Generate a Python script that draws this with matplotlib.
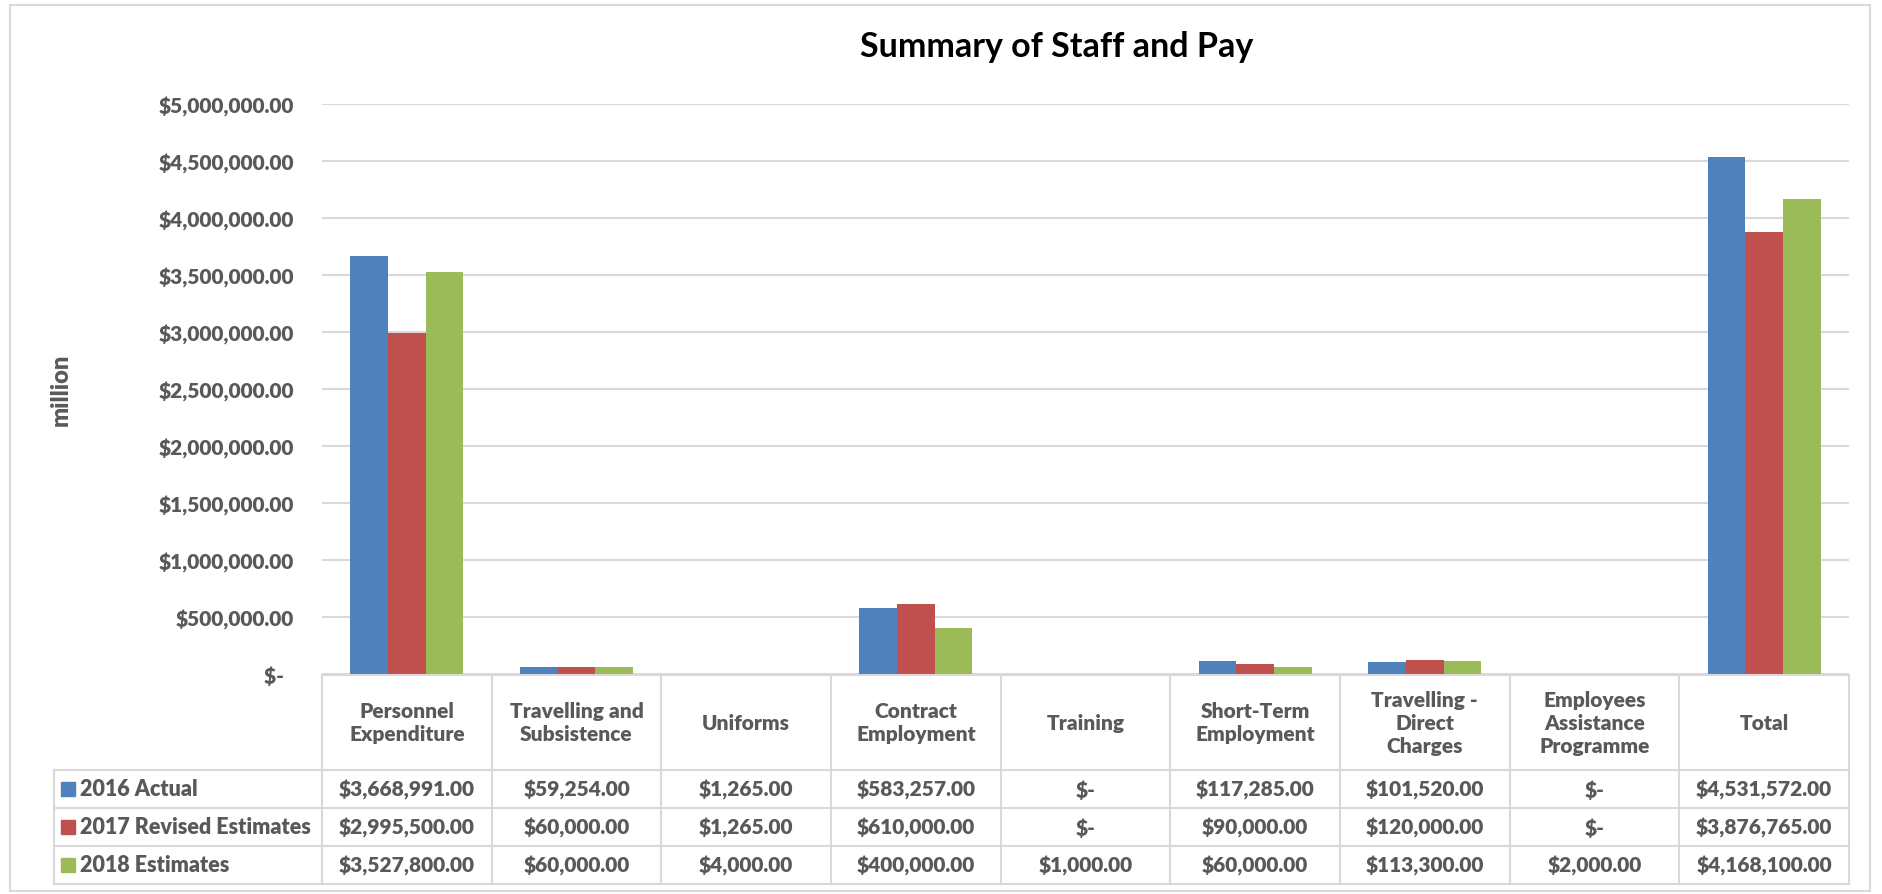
import matplotlib
matplotlib.use("Agg")
import matplotlib.pyplot as plt
from matplotlib.patches import Rectangle
from matplotlib.ticker import FuncFormatter
import numpy as np

plt.rcParams["font.family"] = ["Lato", "DejaVu Sans"]

# %% data
categories = [
    "Personnel\nExpenditure",
    "Travelling and\nSubsistence",
    "Uniforms",
    "Contract\nEmployment",
    "Training",
    "Short-Term\nEmployment",
    "Travelling -\nDirect\nCharges",
    "Employees\nAssistance\nProgramme",
    "Total",
]
series_names = ["2016 Actual", "2017 Revised Estimates", "2018 Estimates"]
actual_2016 = [3668991, 59254, 1265, 583257, 0, 117285, 101520, 0, 4531572]
revised_2017 = [2995500, 60000, 1265, 610000, 0, 90000, 120000, 0, 3876765]
estimates_2018 = [3527800, 60000, 4000, 400000, 1000, 60000, 113300, 2000, 4168100]
series_values = [actual_2016, revised_2017, estimates_2018]
colors = ["#4F81BD", "#C0504D", "#9BBB59"]

TEXT = "#595959"
GRID = "#D9D9D9"
WEIGHT = "heavy"


def money(v, pos=None):
    return "$-  " if v == 0 else f"${v:,.2f}"


# %% layout in pixels
W, H = 1883, 895
fig = plt.figure(figsize=(W / 100, H / 100), dpi=100)


def px_axes(x0, y0, x1, y1):
    return fig.add_axes([x0 / W, 1 - y1 / H, (x1 - x0) / W, (y1 - y0) / H])


plot_l, plot_r = 322, 1849
col_w = (plot_r - plot_l) / len(categories)

# outer chart border
fig.patches.append(Rectangle((10 / W, 1 - 892 / H), 1860 / W, 886 / H,
                             transform=fig.transFigure, fill=False,
                             edgecolor=GRID, lw=1.5))

# %% bars
ax = px_axes(plot_l, 105, plot_r, 675)
x = np.arange(len(categories))
bw = 37.6 / col_w
for k, (vals, c) in enumerate(zip(series_values, colors)):
    ax.bar(x + (k - 1) * bw, vals, width=bw, color=c, zorder=3)

ax.set_xlim(-0.5, len(categories) - 0.5)
ax.set_ylim(0, 5e6)
ax.set_yticks(np.arange(0, 5.01e6, 5e5))
ax.yaxis.set_major_formatter(FuncFormatter(money))
ax.tick_params(axis="y", length=0, pad=20, labelsize=15, labelcolor=TEXT)
for lab in ax.get_yticklabels():
    lab.set_fontweight(WEIGHT)
ax.set_xticks([])
ax.grid(axis="y", color=GRID, lw=1.5, zorder=0)
for s in ax.spines.values():
    s.set_visible(False)
ax.set_ylabel("million", fontsize=17, fontweight=WEIGHT, color=TEXT)
ax.yaxis.set_label_coords((72 - plot_l) / (plot_r - plot_l), 0.5)

fig.text(1057 / W, 1 - 47 / H, "Summary of Staff and Pay", fontsize=24.5,
         fontweight="bold", color="black", ha="center", va="center")

# %% data table
tab_l = 54
tax = px_axes(tab_l, 676, plot_r, 885)
x_left = -0.5 - (plot_l - tab_l) / col_w
tax.set_xlim(x_left, len(categories) - 0.5)
rows = [0, 95, 133, 171, 209]
tax.set_ylim(rows[-1], rows[0])
tax.axis("off")

line_kw = dict(color=GRID, lw=1.5, clip_on=False)
tax.plot([-0.5, len(categories) - 0.5], [rows[0]] * 2, **line_kw)
for yy in rows[1:]:
    tax.plot([x_left, len(categories) - 0.5], [yy] * 2, **line_kw)
for i in range(len(categories) + 1):
    tax.plot([i - 0.5] * 2, [rows[0], rows[-1]], **line_kw)
tax.plot([x_left] * 2, [rows[1], rows[-1]], **line_kw)

for i, cat in enumerate(categories):
    tax.text(i, (rows[0] + rows[1]) / 2, cat, ha="center", va="center",
             fontsize=15, fontweight=WEIGHT, color=TEXT, linespacing=1.25)

for r, (name, vals, c) in enumerate(zip(series_names, series_values, colors)):
    yc = (rows[r + 1] + rows[r + 2]) / 2
    tax.add_patch(Rectangle((x_left + 7 / col_w, yc - 7), 14 / col_w, 14,
                            color=c, clip_on=False))
    tax.text(x_left + 26 / col_w, yc, name, ha="left", va="center",
             fontsize=15.5, fontweight=WEIGHT, color=TEXT)
    for i, v in enumerate(vals):
        tax.text(i, yc, money(v).strip(), ha="center", va="center",
                 fontsize=15, fontweight=WEIGHT, color=TEXT)

fig.savefig("out.png", dpi=100)
